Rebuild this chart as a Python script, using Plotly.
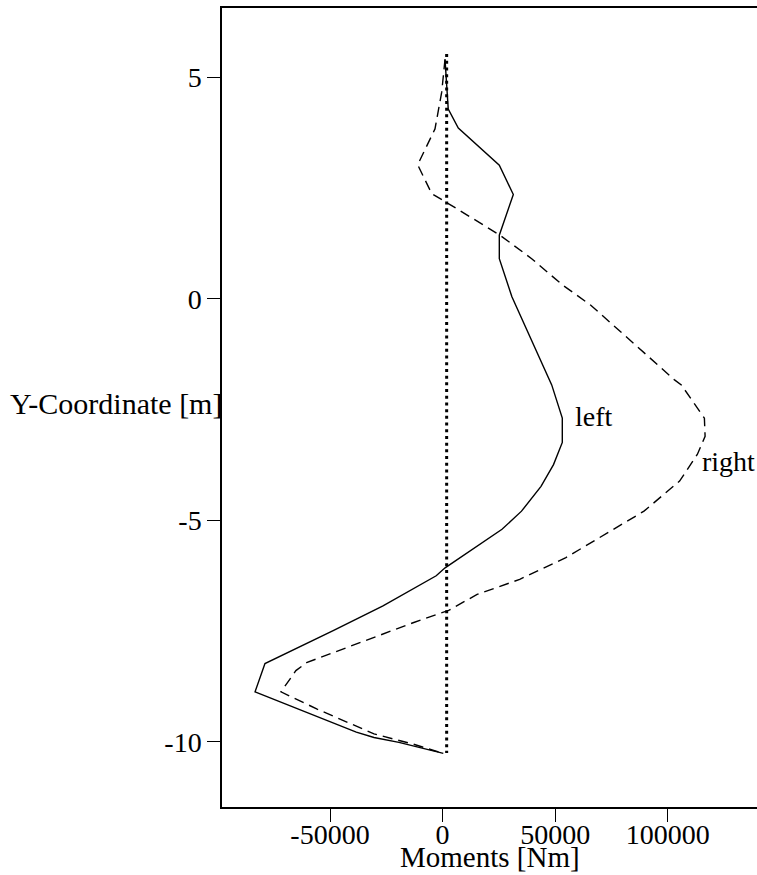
import plotly.graph_objects as go

# Data
y_left = [5.41, 4.29, 3.86, 3.02, 2.36, 1.44, 0.91, 0.05, -1.94, -2.69, -3.24, -3.74,
          -4.23, -4.79, -5.20, -5.77, -6.07, -6.25, -6.93, -7.49, -8.23, -8.87, -9.33,
          -9.78, -9.90, -10.01, -10.26]
m_left = [1070, 2500, 6970, 25180, 31400, 25180, 25180, 30770, 48450, 53150, 53150, 49250,
          43700, 35040, 26380, 9810, 1110, -2840, -26470, -48590, -78880, -83280, -60400,
          -38330, -30470, -19400, 310]

y_right = [5.41, 4.67, 3.84, 3.03, 2.38, 2.27, 2.04, 1.44, 0.91, 0.32, -0.14, -1.82, -1.94,
           -2.69, -3.10, -3.51, -4.11, -4.79, -5.32, -5.84, -6.33, -6.67, -7.03, -7.31,
           -8.21, -8.39, -8.87, -9.26, -9.82, -10.05, -10.26]
m_right = [1070, -400, -3380, -11060, -4840, -1150, 6260, 25490, 39560, 53150, 65800, 102840,
           106000, 116250, 116560, 113100, 105240, 89430, 72110, 54750, 34240, 15320, 2710,
           -13100, -60400, -65150, -71770, -55700, -30470, -13100, 310]

y_ref = [5.53, -10.25]
m_ref = [1800, 1800]

x_ticks = [-50000, 0, 50000, 100000]
y_ticks = [5, 0, -5, -10]
x_range = [-97960, 145380]
y_range = [-11.47, 6.57]

FONT = "Liberation Serif"

fig = go.Figure()
fig.add_trace(go.Scatter(x=m_ref, y=y_ref, mode="lines",
                         line=dict(color="black", width=3, dash="3px,3.7px"),
                         showlegend=False, hoverinfo="skip"))
fig.add_trace(go.Scatter(x=m_left, y=y_left, mode="lines", name="left",
                         line=dict(color="black", width=1.4), showlegend=False))
fig.add_trace(go.Scatter(x=m_right, y=y_right, mode="lines", name="right",
                         line=dict(color="black", width=1.4, dash="10px,6px"), showlegend=False))

fig.add_annotation(x=57900, y=-2.65, xref="x", yref="y", text="left", showarrow=False,
                   xanchor="left", yanchor="middle", font=dict(family=FONT, size=28, color="black"))
fig.add_annotation(x=114200, y=-3.68, xref="x", yref="y", text="right", showarrow=False,
                   xanchor="left", yanchor="middle", font=dict(family=FONT, size=28, color="black"))
fig.add_annotation(x=0, y=0.5, xref="paper", yref="paper", text="Y-Coordinate [m]",
                   showarrow=False, xanchor="right", yanchor="middle", xshift=2, yshift=4,
                   font=dict(family=FONT, size=30, color="black"))
# centred under the visible part of the axis (x from 222 to 757 px)
fig.add_annotation(x=(-97960 + 139610) / 2, y=0, xref="x", yref="paper", text="Moments [Nm]",
                   showarrow=False, xanchor="center", yanchor="top", yshift=-32,
                   font=dict(family=FONT, size=29, color="black"))

# plot frame runs past the right edge of the window, like the reference
fig.update_layout(
    width=800, height=875,
    margin=dict(l=222, r=30, t=6, b=68),
    paper_bgcolor="white", plot_bgcolor="white",
    font=dict(family=FONT, size=28, color="black"),
    showlegend=False,
)
fig.update_xaxes(range=x_range, tickvals=x_ticks, ticktext=[str(v) for v in x_ticks],
                 showgrid=False, zeroline=False, showline=True, linecolor="black", linewidth=1.5,
                 mirror=True, ticks="outside", ticklen=13, tickwidth=1.2, tickcolor="black",
                 ticklabelstandoff=-11,
                 tickfont=dict(family=FONT, size=28, color="black"))
fig.update_yaxes(range=y_range, tickvals=y_ticks, ticktext=[str(v) for v in y_ticks],
                 showgrid=False, zeroline=False, showline=True, linecolor="black", linewidth=1.5,
                 mirror=False, ticks="outside", ticklen=13, tickwidth=1.2, tickcolor="black",
                 tickfont=dict(family=FONT, size=28, color="black"))

fig.write_html("out.html", config={"displayModeBar": False},
               post_script="document.body.style.margin='0';document.body.style.overflow='hidden';")
